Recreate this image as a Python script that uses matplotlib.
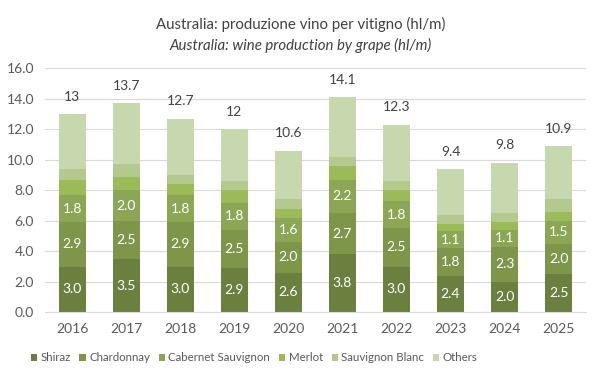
import numpy as np
import matplotlib
matplotlib.use("Agg")
from matplotlib import pyplot as plt

years = ["2016", "2017", "2018", "2019", "2020", "2021", "2022", "2023", "2024", "2025"]
shiraz = [3.0, 3.5, 3.0, 2.9, 2.6, 3.8, 3.0, 2.4, 2.0, 2.5]
chardonnay = [2.9, 2.5, 2.9, 2.5, 2.0, 2.7, 2.5, 1.8, 2.3, 2.0]
cabernet = [1.8, 2.0, 1.8, 1.8, 1.6, 2.2, 1.8, 1.1, 1.1, 1.5]
merlot = [1.0, 0.9, 0.7, 0.8, 0.6, 0.9, 0.7, 0.5, 0.5, 0.6]
sauv_blanc = [0.7, 0.8, 0.6, 0.6, 0.6, 0.6, 0.6, 0.6, 0.6, 0.8]
others = [3.6, 4.0, 3.7, 3.4, 3.2, 3.9, 3.7, 3.0, 3.3, 3.5]

series = [("Shiraz", shiraz, "#6b7f3e"),
          ("Chardonnay", chardonnay, "#7d9649"),
          ("Cabernet Sauvignon", cabernet, "#8ba756"),
          ("Merlot", merlot, "#9bbb59"),
          ("Sauvignon Blanc", sauv_blanc, "#b3c98f"),
          ("Others", others, "#c8d8ae")]
labelled = ["Shiraz", "Chardonnay", "Cabernet Sauvignon"]

plt.rcParams['font.family'] = ['Lato', 'DejaVu Sans']
fig = plt.figure(figsize=(6.02, 3.78), dpi=100)
ax = fig.add_axes([0.0748, 0.174, 0.898, 0.645])

x = np.arange(len(years))
bottom = np.zeros(len(years))
for name, vals, col in series:
    bars = ax.bar(x, vals, 0.5, bottom=bottom, color=col, label=name, zorder=2)
    if name in labelled:
        ax.bar_label(bars, labels=["%.1f" % v for v in vals], label_type="center",
                     color="white", fontsize=10)
    bottom = bottom + np.array(vals)

# totals above each bar
for xi, tot in zip(x, bottom):
    ax.text(xi, tot + 0.75, "%g" % round(tot, 1), ha="center", va="bottom",
            fontsize=10, color="#404040")

ax.set_xlim(-0.5, len(years) - 0.5)
ax.set_ylim(0, 16)
ax.set_yticks(np.arange(0, 17, 2))
ax.set_yticklabels(["%.1f" % v for v in np.arange(0, 17, 2)])
ax.set_xticks(x)
ax.set_xticklabels(years)
ax.yaxis.grid(True, color="#d9d9d9", linewidth=0.8, zorder=0)
ax.set_axisbelow(True)
for s in ["top", "right", "left"]:
    ax.spines[s].set_visible(False)
ax.spines["bottom"].set_color("#d9d9d9")
ax.tick_params(axis="both", length=0, labelsize=10, colors="#595959", pad=8)

fig.text(0.5, 0.935, "Australia: produzione vino per vitigno (hl/m)", ha="center",
         va="center", fontsize=10.8, color="#404040")
fig.text(0.5, 0.88, "Australia: wine production by grape (hl/m)", ha="center",
         va="center", fontsize=10.8, color="#404040", style="italic")

fig.legend(loc="center", bbox_to_anchor=(0.422, 0.053), ncol=6, frameon=False,
           fontsize=8.3, handlelength=0.55, handleheight=0.55, handletextpad=0.3,
           columnspacing=0.75, labelcolor="#595959", borderaxespad=0, borderpad=0)

fig.savefig("out.png", dpi=100)
